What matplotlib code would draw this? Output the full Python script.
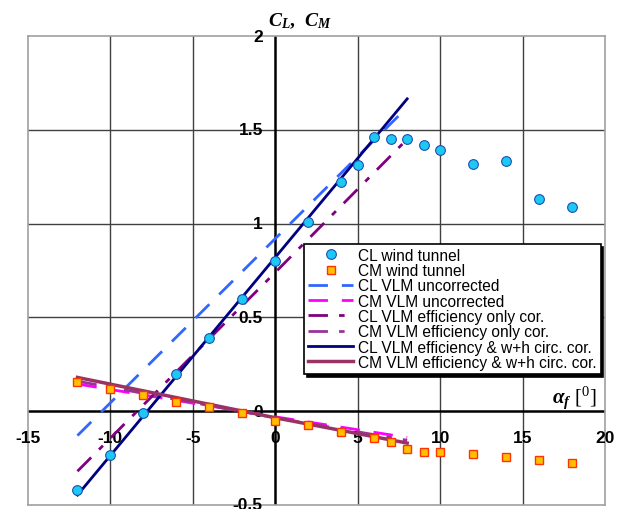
import matplotlib
matplotlib.use('Agg')
import matplotlib.pyplot as plt

plt.rcParams['mathtext.fontset'] = 'custom'
plt.rcParams['mathtext.rm'] = 'Liberation Serif'
plt.rcParams['mathtext.it'] = 'Liberation Serif:italic:bold'
plt.rcParams['mathtext.bf'] = 'Liberation Serif:bold'

# ---- wind tunnel data ----
alpha_cl_wt = [-12, -10, -8, -6, -4, -2, 0, 2, 4, 5, 6, 7, 8, 9, 10, 12, 14, 16, 18]
cl_wt = [-0.42, -0.235, -0.01, 0.20, 0.39, 0.60, 0.80, 1.01, 1.22, 1.31, 1.46,
         1.45, 1.45, 1.42, 1.39, 1.32, 1.335, 1.13, 1.09]
alpha_cm_wt = [-12, -10, -8, -6, -4, -2, 0, 2, 4, 6, 7, 8, 9, 10, 12, 14, 16, 18]
cm_wt = [0.155, 0.12, 0.085, 0.05, 0.02, -0.01, -0.05, -0.075, -0.11, -0.145,
         -0.165, -0.20, -0.22, -0.22, -0.23, -0.245, -0.26, -0.275]

# ---- VLM results ----
alpha_vlm = [-12, 0, 8]
cl_unc = [-0.13, 0.92, 1.62]
cm_unc = [0.145, -0.03, -0.14]
cl_eff = [-0.32, 0.74, 1.45]
cm_eff = [0.16, -0.035, -0.155]
cl_full = [-0.447, 0.82, 1.665]
cm_full = [0.18, -0.035, -0.17]

xticks = [-15, -10, -5, 0, 5, 10, 15, 20]
yticks = [-0.5, 0, 0.5, 1, 1.5, 2]

fig = plt.figure(figsize=(6.23, 5.10), dpi=100)
ax = fig.add_axes([28/623, 4/510, 577/623, 469/510])
ax.set_xlim(-15, 20)
ax.set_ylim(-0.5, 2)
for s in ax.spines.values():
    s.set_color('#a0a0a0')
    s.set_linewidth(1.2)
ax.set_xticks([])
ax.set_yticks([])

# grid
for v in xticks[1:-1]:
    if v != 0:
        ax.axvline(v, color='#404040', lw=1, zorder=1)
for v in yticks[1:-1]:
    if v != 0:
        ax.axhline(v, color='#404040', lw=1, zorder=1)
ax.axhline(0, color='black', lw=1.8, zorder=1.5)
ax.axvline(0, color='black', lw=1.8, zorder=1.5)

# tick labels next to the axes through the origin
tkw = dict(fontsize=12.5, fontweight='bold', family='Liberation Sans',
           textcoords='offset points', annotation_clip=False)
for v in xticks:
    ax.annotate(f'{v:g}', xy=(v, 0), xytext=(0, -19), ha='center', va='center', **tkw)
for v in yticks:
    ax.annotate(f'{v:g}', xy=(0, v), xytext=(-9, 0), ha='right', va='center', **tkw)

# VLM lines
ax.plot(alpha_vlm, cl_unc, color='#3366ff', lw=2, dashes=(7, 5), label='CL VLM uncorrected', zorder=3)
ax.plot(alpha_vlm, cm_unc, color='#ff00ff', lw=2, dashes=(7, 5), label='CM VLM uncorrected', zorder=3)
ax.plot(alpha_vlm, cl_eff, color='#800080', lw=2, dashes=(7, 4, 2, 4), label='CL VLM efficiency only cor.', zorder=3)
ax.plot(alpha_vlm, cm_eff, color='#993399', lw=2, dashes=(7, 4, 2, 4), label='CM VLM efficiency only cor.', zorder=3)
ax.plot(alpha_vlm, cl_full, color='#000080', lw=2, label='CL VLM efficiency & w+h circ. cor.', zorder=3)
ax.plot(alpha_vlm, cm_full, color='#993366', lw=2.5, label='CM VLM efficiency & w+h circ. cor.', zorder=3)

# wind tunnel markers
ax.plot(alpha_cl_wt, cl_wt, 'o', ms=7, mfc='#1ec8f5', mec='#1f4fb0', mew=0.8,
        label='CL wind tunnel', zorder=4)
ax.plot(alpha_cm_wt, cm_wt, 's', ms=6, mfc='#ffc000', mec='#ff3300', mew=1,
        label='CM wind tunnel', zorder=4)

handles, labels = ax.get_legend_handles_labels()
order = [6, 7, 0, 1, 2, 3, 4, 5]
leg = ax.legend([handles[i] for i in order], [labels[i] for i in order],
                loc='upper left', bbox_to_anchor=(0.479, 0.557),
                prop={'family': 'Liberation Sans', 'size': 11.2},
                handlelength=2.9, handletextpad=0.3, labelspacing=0.02,
                borderpad=0.25, borderaxespad=0, fancybox=False,
                shadow={'color': 'black', 'alpha': 1}, framealpha=1)
leg.get_frame().set_edgecolor('black')
leg.get_frame().set_linewidth(1.2)
leg.set_zorder(10)

# axis titles
ax.text(-0.45, 2.085, r'$C_L$,  $C_M$', fontsize=14, fontweight='bold',
        family='Liberation Serif', ha='left', va='center', clip_on=False)
ax.text(19.5, 0.075, r'$\alpha_f$ [$^0$]', fontsize=15, family='Liberation Serif',
        ha='right', va='center')

fig.savefig('out.png', dpi=100, facecolor='white')
plt.close()
